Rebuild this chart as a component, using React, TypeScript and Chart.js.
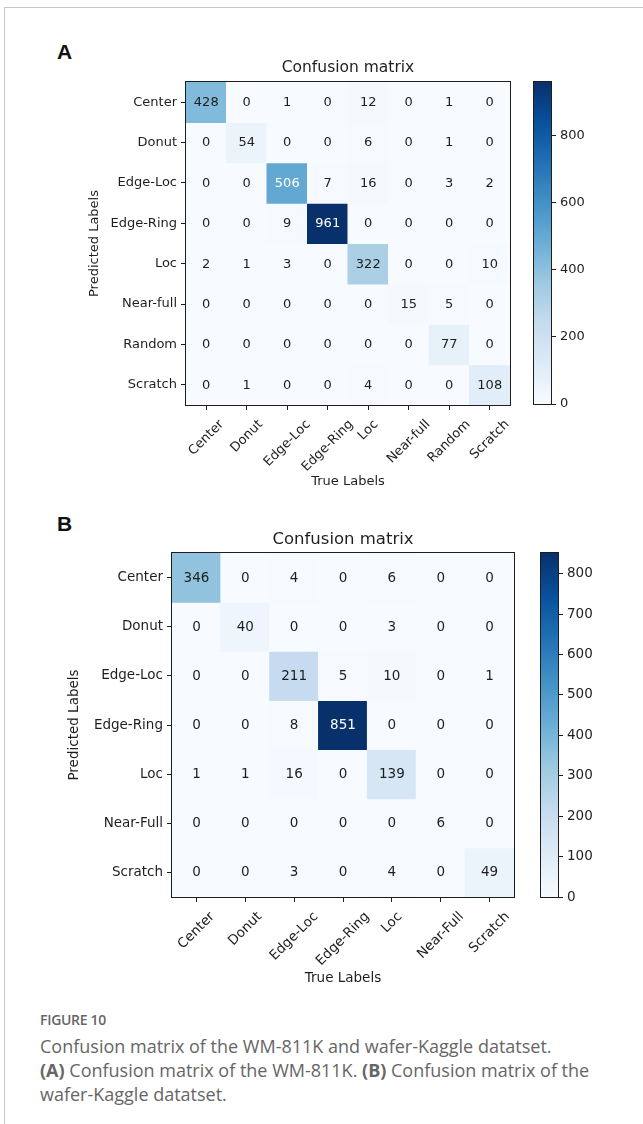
import React, { useEffect, useRef } from 'react';
import { Chart, registerables } from 'chart.js';

Chart.register(...registerables);

// ---------- Panel A data (WM-811K) ----------
const labelsA = ['Center', 'Donut', 'Edge-Loc', 'Edge-Ring', 'Loc', 'Near-full', 'Random', 'Scratch'];
const aCenter = [428, 0, 1, 0, 12, 0, 1, 0];
const aDonut = [0, 54, 0, 0, 6, 0, 1, 0];
const aEdgeLoc = [0, 0, 506, 7, 16, 0, 3, 2];
const aEdgeRing = [0, 0, 9, 961, 0, 0, 0, 0];
const aLoc = [2, 1, 3, 0, 322, 0, 0, 10];
const aNearFull = [0, 0, 0, 0, 0, 15, 5, 0];
const aRandom = [0, 0, 0, 0, 0, 0, 77, 0];
const aScratch = [0, 1, 0, 0, 4, 0, 0, 108];
const cbarTicksA = [0, 200, 400, 600, 800];

// ---------- Panel B data (wafer-Kaggle) ----------
const labelsB = ['Center', 'Donut', 'Edge-Loc', 'Edge-Ring', 'Loc', 'Near-Full', 'Scratch'];
const bCenter = [346, 0, 4, 0, 6, 0, 0];
const bDonut = [0, 40, 0, 0, 3, 0, 0];
const bEdgeLoc = [0, 0, 211, 5, 10, 0, 1];
const bEdgeRing = [0, 0, 8, 851, 0, 0, 0];
const bLoc = [1, 1, 16, 0, 139, 0, 0];
const bNearFull = [0, 0, 0, 0, 0, 6, 0];
const bScratch = [0, 0, 3, 0, 4, 0, 49];
const cbarTicksB = [0, 100, 200, 300, 400, 500, 600, 700, 800];

const matrixA = [aCenter, aDonut, aEdgeLoc, aEdgeRing, aLoc, aNearFull, aRandom, aScratch];
const matrixB = [bCenter, bDonut, bEdgeLoc, bEdgeRing, bLoc, bNearFull, bScratch];

// matplotlib "Blues"
const BLUES = ['#f7fbff', '#deebf7', '#c6dbef', '#9ecae1', '#6baed6', '#4292c6', '#2171b5', '#08519c', '#08306b'];
function hexRgb(h: string) {
  return [parseInt(h.slice(1, 3), 16), parseInt(h.slice(3, 5), 16), parseInt(h.slice(5, 7), 16)];
}
function blues(t: number) {
  const tt = Math.max(0, Math.min(1, t));
  const n = BLUES.length - 1;
  const p = tt * n;
  const i = Math.min(Math.floor(p), n - 1);
  const f = p - i;
  const a = hexRgb(BLUES[i]);
  const b = hexRgb(BLUES[i + 1]);
  const c = a.map((v, k) => Math.round(v + (b[k] - v) * f));
  return `rgb(${c[0]},${c[1]},${c[2]})`;
}

const FONT = "'DejaVu Sans', sans-serif";
const INK = '#1e1e1e';

type Geo = {
  top: number; height: number; width: number;
  axisW: number; axisH: number;
  ylabPad: number; xlabPad: number;
  titlePadTop: number; titlePadBottom: number;
  padRight: number;
  tickFont: number; numFont: number; titleFont: number; labFont: number;
  xLabelGap: number;
  cbLeftPad: number; cbAxisW: number; cbTopPad: number; cbBottomPad: number;
};

function MatrixPanel({ labels, matrix, ticks, geo }: { labels: string[]; matrix: number[][]; ticks: number[]; geo: Geo }) {
  const ref = useRef<HTMLCanvasElement>(null);
  const cbRef = useRef<HTMLCanvasElement>(null);

  useEffect(() => {
    const vmax = Math.max(...matrix.map((r) => Math.max(...r)));
    const n = labels.length;

    const frame = {
      id: 'frame',
      afterDraw(chart: any) {
        const { ctx, chartArea: a } = chart;
        ctx.save();
        ctx.strokeStyle = INK;
        ctx.lineWidth = 1;
        ctx.strokeRect(a.left - 0.5, a.top - 0.5, a.right - a.left + 1, a.bottom - a.top + 1);
        ctx.restore();
      },
    };

    const cellText = {
      id: 'cellText',
      afterDatasetsDraw(chart: any) {
        const { ctx } = chart;
        ctx.save();
        ctx.font = `${geo.numFont}px ${FONT}`;
        ctx.textAlign = 'center';
        ctx.textBaseline = 'middle';
        chart.data.datasets.forEach((ds: any, di: number) => {
          const meta = chart.getDatasetMeta(di);
          meta.data.forEach((el: any, ci: number) => {
            const { x, y, base } = el.getProps(['x', 'y', 'base'], true);
            const v = ds.counts[ci];
            ctx.fillStyle = v > vmax / 2 ? '#ffffff' : INK;
            ctx.fillText(String(v), x, (y + base) / 2 + 0.5);
          });
        });
        ctx.restore();
      },
    };

    const xLabels = {
      id: 'xLabels',
      afterDraw(chart: any) {
        const { ctx, chartArea: a } = chart;
        const xs = chart.scales.x;
        ctx.save();
        ctx.font = `${geo.tickFont}px ${FONT}`;
        ctx.fillStyle = INK;
        ctx.textAlign = 'center';
        ctx.textBaseline = 'middle';
        labels.forEach((lab, i) => {
          const px = xs.getPixelForTick(i);
          const w = ctx.measureText(lab).width;
          const h = geo.tickFont * 1.17;
          const d = (w + h) * Math.SQRT1_2;
          ctx.save();
          ctx.translate(px, a.bottom + geo.xLabelGap + d / 2);
          ctx.rotate(-Math.PI / 4);
          ctx.fillText(lab, 0, 0);
          ctx.restore();
        });
        ctx.restore();
      },
    };

    const datasets = matrix.map((row, i) => ({
      label: labels[i],
      data: row.map(() => [i, i + 1]),
      counts: row,
      backgroundColor: row.map((v) => blues(v / vmax)),
      borderWidth: 0,
      barPercentage: 1,
      categoryPercentage: 1,
      grouped: false,
      inflateAmount: 0.5,
    }));

    const chart = new Chart(ref.current!, {
      type: 'bar',
      data: { labels, datasets: datasets as any },
      options: {
        animation: false,
        responsive: false,
        maintainAspectRatio: false,
        events: [],
        layout: { padding: { left: 0, top: 0, bottom: 0, right: geo.padRight } },
        plugins: {
          legend: { display: false },
          tooltip: { enabled: false },
          title: {
            display: true,
            text: 'Confusion matrix',
            fullSize: false,
            color: INK,
            font: { family: FONT, size: geo.titleFont, weight: 'normal' },
            padding: { top: geo.titlePadTop, bottom: geo.titlePadBottom },
          },
        },
        scales: {
          x: {
            type: 'category',
            offset: true,
            grid: { offset: false, drawOnChartArea: false, drawTicks: true, tickLength: 5, color: INK },
            border: { display: false },
            ticks: { display: false, autoSkip: false },
            title: {
              display: true,
              text: 'True Labels',
              color: INK,
              font: { family: FONT, size: geo.labFont },
              padding: { top: 0, bottom: geo.xlabPad },
            },
            afterFit: (s: any) => { s.height = geo.axisH; },
          },
          y: {
            type: 'linear',
            reverse: true,
            min: 0,
            max: n,
            grid: { drawOnChartArea: false, drawTicks: true, tickLength: 5, color: INK },
            border: { display: false },
            afterBuildTicks: (s: any) => { s.ticks = labels.map((_, i) => ({ value: i + 0.5 })); },
            ticks: {
              autoSkip: false,
              padding: 4,
              color: INK,
              font: { family: FONT, size: geo.tickFont },
              callback: (v: any) => labels[Math.floor(Number(v))],
            },
            title: {
              display: true,
              text: 'Predicted Labels',
              color: INK,
              font: { family: FONT, size: geo.labFont },
              padding: { top: geo.ylabPad, bottom: 0 },
            },
            afterFit: (s: any) => { s.width = geo.axisW; },
          },
        },
      },
      plugins: [frame, cellText, xLabels],
    } as any);

    const cframe = { ...frame, id: 'cframe' };
    const cb = new Chart(cbRef.current!, {
      type: 'bar',
      data: {
        labels: [''],
        datasets: [{
          data: [[0, vmax]],
          backgroundColor: (c: any) => {
            const a = c.chart.chartArea;
            if (!a) return BLUES[0];
            const g = c.chart.ctx.createLinearGradient(0, a.bottom, 0, a.top);
            BLUES.forEach((col, i) => g.addColorStop(i / (BLUES.length - 1), col));
            return g;
          },
          borderWidth: 0,
          barPercentage: 1,
          categoryPercentage: 1,
        }] as any,
      },
      options: {
        animation: false,
        responsive: false,
        maintainAspectRatio: false,
        events: [],
        layout: { padding: { left: geo.cbLeftPad, top: geo.cbTopPad, bottom: geo.cbBottomPad, right: 0 } },
        plugins: { legend: { display: false }, tooltip: { enabled: false } },
        scales: {
          x: { display: false, offset: true },
          y: {
            position: 'right',
            min: 0,
            max: vmax,
            grid: { drawOnChartArea: false, drawTicks: true, tickLength: 5, color: INK },
            border: { display: false },
            afterBuildTicks: (s: any) => { s.ticks = ticks.map((v) => ({ value: v })); },
            ticks: { padding: 4, color: INK, font: { family: FONT, size: geo.tickFont } },
            afterFit: (s: any) => { s.width = geo.cbAxisW; },
          },
        },
      },
      plugins: [cframe],
    } as any);

    return () => {
      chart.destroy();
      cb.destroy();
    };
  }, []);

  return (
    <>
      <canvas
        ref={ref}
        width={geo.width}
        height={geo.height}
        style={{ position: 'absolute', left: 0, top: geo.top, width: geo.width, height: geo.height }}
      />
      <canvas
        ref={cbRef}
        width={643 - geo.width}
        height={geo.height}
        style={{ position: 'absolute', left: geo.width, top: geo.top, width: 643 - geo.width, height: geo.height }}
      />
    </>
  );
}

// Panel A: matrix 186..510 x 82..405 ; canvas 30..500
const geoA: Geo = {
  top: 30, height: 470, width: 520,
  axisW: 186, axisH: 95,
  ylabPad: 87.2, xlabPad: 10.2,
  titlePadTop: 28.7, titlePadBottom: 4.7,
  padRight: 10,
  tickFont: 13, numFont: 13, titleFont: 15.5, labFont: 13,
  xLabelGap: 12,
  cbLeftPad: 14, cbAxisW: 92, cbTopPad: 52, cbBottomPad: 96,
};

// Panel B: matrix 172..514 x 553..897 ; canvas 500..1000
const geoB: Geo = {
  top: 500, height: 500, width: 520,
  axisW: 172, axisH: 103,
  ylabPad: 65.9, xlabPad: 13.9,
  titlePadTop: 30.1, titlePadBottom: 3.1,
  padRight: 6,
  tickFont: 13.5, numFont: 13.5, titleFont: 16.5, labFont: 13.5,
  xLabelGap: 12,
  cbLeftPad: 21, cbAxisW: 85, cbTopPad: 53, cbBottomPad: 103,
};

export default function App() {
  const cap = { fontFamily: "'Open Sans', sans-serif", color: '#666', whiteSpace: 'nowrap' as const };
  return (
    <div style={{ position: 'absolute', left: 0, top: 0, width: 643, height: 1124, background: '#fff', overflow: 'hidden' }}>
      <div style={{ position: 'absolute', left: 4, top: 7, right: -2, bottom: -2, borderTop: '1px solid #c6c6c6', borderLeft: '1px solid #c6c6c6' }} />
      <div style={{ position: 'absolute', left: 57, top: 41, fontFamily: "'Liberation Sans', Arial, sans-serif", fontWeight: 700, fontSize: 21, lineHeight: '21px', color: '#111' }}>A</div>
      <div style={{ position: 'absolute', left: 57, top: 513, fontFamily: "'Liberation Sans', Arial, sans-serif", fontWeight: 700, fontSize: 21, lineHeight: '21px', color: '#111' }}>B</div>
      <MatrixPanel labels={labelsA} matrix={matrixA} ticks={cbarTicksA} geo={geoA} />
      <MatrixPanel labels={labelsB} matrix={matrixB} ticks={cbarTicksB} geo={geoB} />
      <div style={{ ...cap, position: 'absolute', left: 40, top: 1010, fontSize: 14, fontWeight: 600, lineHeight: '20px', letterSpacing: '-0.3px' }}>FIGURE 10</div>
      <div style={{ ...cap, position: 'absolute', left: 40, top: 1034, fontSize: 18, lineHeight: '24px' }}>
        <div>Confusion matrix of the WM-811K and wafer-Kaggle datatset.</div>
        <div><b style={{ fontWeight: 700 }}>(A)</b> Confusion matrix of the WM-811K. <b style={{ fontWeight: 700 }}>(B)</b> Confusion matrix of the</div>
        <div>wafer-Kaggle datatset.</div>
      </div>
    </div>
  );
}
